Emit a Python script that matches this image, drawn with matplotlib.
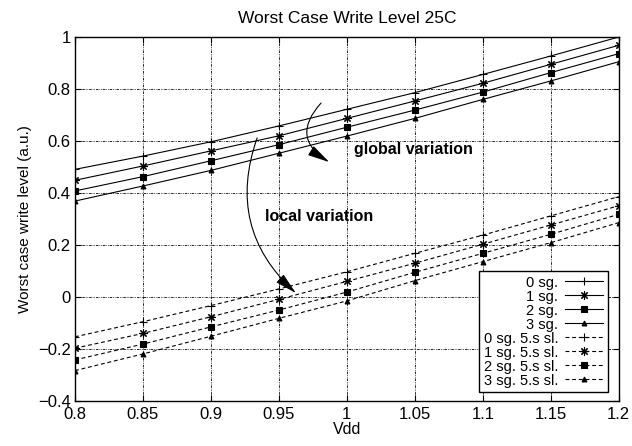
import matplotlib
matplotlib.use("Agg")
import matplotlib.pyplot as plt

plt.rcParams['font.family'] = ['Liberation Sans', 'DejaVu Sans']
plt.rcParams['font.size'] = 10

# Vdd sweep
vdd = [0.8, 0.85, 0.9, 0.95, 1.0, 1.05, 1.1, 1.15, 1.2]

# global variation (solid)
sg0 = [0.491, 0.542, 0.597, 0.658, 0.722, 0.786, 0.856, 0.927, 1.000]
sg1 = [0.449, 0.504, 0.562, 0.620, 0.687, 0.754, 0.822, 0.895, 0.968]
sg2 = [0.408, 0.463, 0.524, 0.586, 0.653, 0.719, 0.788, 0.863, 0.936]
sg3 = [0.369, 0.427, 0.487, 0.553, 0.619, 0.687, 0.760, 0.831, 0.905]

# local variation, 5 sigma slope (dashed)
sl0 = [-0.153, -0.095, -0.033, 0.031, 0.097, 0.168, 0.238, 0.312, 0.386]
sl1 = [-0.197, -0.140, -0.076, -0.009, 0.060, 0.130, 0.203, 0.277, 0.351]
sl2 = [-0.242, -0.181, -0.115, -0.050, 0.019, 0.095, 0.168, 0.241, 0.318]
sl3 = [-0.283, -0.219, -0.151, -0.082, -0.015, 0.063, 0.136, 0.209, 0.286]

solid_labels = ['0 sg.', '1 sg.', '2 sg.', '3 sg.']
dashed_labels = ['0 sg. 5.s sl.', '1 sg. 5.s sl.', '2 sg. 5.s sl.', '3 sg. 5.s sl.']

markers = [('+', 6), ((8, 2, 0), 6), ('s', 5), ('^', 3.5)]

fig = plt.figure(figsize=(6.32, 4.46), dpi=100)
ax = fig.add_axes([0.1187, 0.1009, 0.8603, 0.8161])

for ys, lab, (m, ms) in zip([sg0, sg1, sg2, sg3], solid_labels, markers):
    ax.plot(vdd, ys, color='black', lw=0.8, marker=m, ms=ms, mew=0.8, label=lab)
for ys, lab, (m, ms) in zip([sl0, sl1, sl2, sl3], dashed_labels, markers):
    ax.plot(vdd, ys, color='black', lw=0.8, ls=(0, (3.5, 2.5)), marker=m, ms=ms, mew=0.8, label=lab)

ax.set_xlim(0.8, 1.2)
ax.set_ylim(-0.4, 1.0)
ax.set_xticks(vdd)
ax.set_xticklabels(['0.8', '0.85', '0.9', '0.95', '1', '1.05', '1.1', '1.15', '1.2'])
ax.set_yticks([-0.4, -0.2, 0, 0.2, 0.4, 0.6, 0.8, 1.0])
ax.set_yticklabels(['\u22120.4', '\u22120.2', '0', '0.2', '0.4', '0.6', '0.8', '1'])
ax.tick_params(direction='in', top=True, right=True, length=4, width=0.8, labelsize=12)
ax.tick_params(axis='x', pad=4.5)
ax.tick_params(axis='y', pad=3)
ax.grid(True, color='black', lw=0.6, ls=(0, (3, 1.2, 0.8, 1.2, 0.8, 1.2)))
for s in ax.spines.values():
    s.set_linewidth(1.0)

ax.set_title('Worst Case Write Level 25C', fontsize=12.5, pad=10)
ax.set_xlabel('Vdd', fontsize=11.5, labelpad=0)
ax.set_ylabel('Worst case write level (a.u.)', fontsize=11, labelpad=4)

# annotations
ax.annotate('', xy=(0.987, 0.519), xytext=(0.981, 0.746),
            arrowprops=dict(arrowstyle='-|>,head_length=0.9,head_width=0.22', color='black',
                            lw=0.8, connectionstyle='arc3,rad=0.6', mutation_scale=15,
                            shrinkA=0, shrinkB=0))
ax.text(1.005, 0.568, 'global variation', fontsize=11.5, fontweight='bold', va='center', ha='left')

ax.annotate('', xy=(0.9625, 0.015), xytext=(0.934, 0.612),
            arrowprops=dict(arrowstyle='-|>,head_length=0.9,head_width=0.22', color='black',
                            lw=0.8, connectionstyle='arc3,rad=0.33', mutation_scale=15,
                            shrinkA=0, shrinkB=0))
ax.text(0.940, 0.308, 'local variation', fontsize=11.5, fontweight='bold', va='center', ha='left')

leg = ax.legend(loc='lower right', bbox_to_anchor=(0.985, 0.017), markerfirst=False,
                fontsize=10.5, labelspacing=0.0, handlelength=2.6, handletextpad=0.5,
                borderpad=0.3, borderaxespad=0.2, fancybox=False, framealpha=1,
                edgecolor='black')
leg.get_frame().set_linewidth(1.0)

fig.savefig('out.png', dpi=100)
